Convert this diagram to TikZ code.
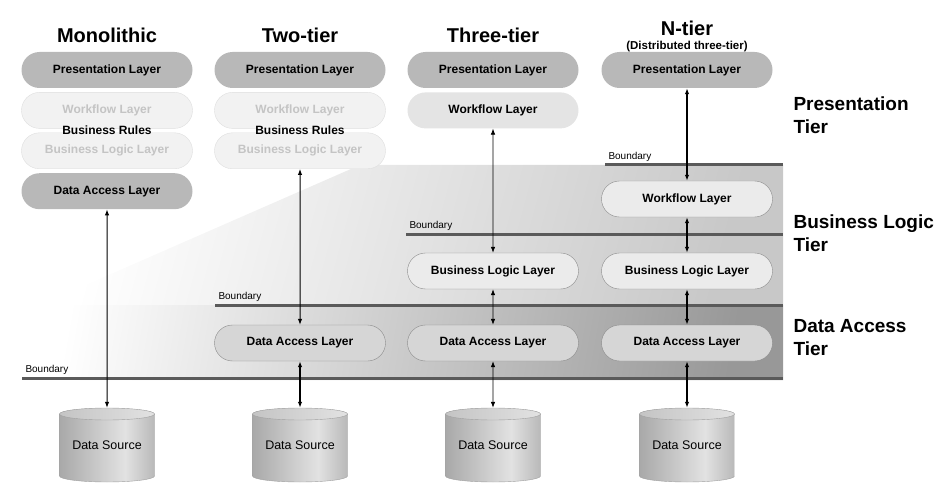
\documentclass[tikz,border=0pt]{standalone}
\usepackage{fontspec}
\setmainfont{Liberation Sans}
\usepackage{xcolor}
\usepackage{tikz}
\usetikzlibrary{positioning, arrows.meta, shapes}

\definecolor{laydark}{HTML}{B8B8B8}
\definecolor{laypale}{HTML}{E4E4E4}
\definecolor{ghostfill}{HTML}{F2F2F2}
\definecolor{ghostline}{HTML}{DEDEDE}
\definecolor{ghosttext}{HTML}{C4C4C4}
\definecolor{bizfill}{HTML}{EBEBEB}
\definecolor{datafill}{HTML}{D6D6D6}
\definecolor{layline}{HTML}{8C8C8C}
\definecolor{bandlight}{HTML}{C8C8C8}
\definecolor{banddark}{HTML}{989898}
\definecolor{boundgray}{HTML}{5A5A5A}
\definecolor{drumedge}{HTML}{A8A8A8}
\definecolor{drummid}{HTML}{E2E2E2}
\definecolor{drumright}{HTML}{B8B8B8}
\definecolor{drumtop}{HTML}{C4C4C4}
\definecolor{drumline}{HTML}{A0A0A0}

\begin{document}
\begin{tikzpicture}[
    x=1pt, y=-1pt,
    node distance=4pt,
    layer/.style={rounded rectangle, minimum width=171pt, minimum height=36pt, inner sep=0pt, font=\fontsize{12}{14}\selectfont\bfseries},
    dark/.style={layer, fill=laydark},
    pale/.style={layer, fill=laypale},
    ghost/.style={layer, fill=ghostfill, draw=ghostline, text=ghosttext},
    bizbox/.style={layer, fill=bizfill, draw=layline, thin},
    databox/.style={layer, fill=datafill, draw=layline, thin},
    datadrum/.pic={
        \begin{scope}
        \clip (-47.5,-31) -- (-47.5,31) arc[start angle=180, end angle=0, x radius=47.5, y radius=6]
            -- (47.5,-31) arc[start angle=0, end angle=-180, x radius=47.5, y radius=6] -- cycle;
        \shade[left color=drumedge, right color=drummid] (-48,-40) rectangle (18,40);
        \shade[left color=drummid, right color=drumright] (18,-40) rectangle (48,40);
        \end{scope}
        \shade[left color=drumtop, right color=drummid] (0,-31) ellipse[x radius=47.5, y radius=6];
        \draw[drumline] (-47.5,-31) -- (-47.5,31) arc[start angle=180, end angle=0, x radius=47.5, y radius=6]
            -- (47.5,-31) (0,-31) ellipse[x radius=47.5, y radius=6];
    },
    source/.style={rectangle, minimum width=95pt, minimum height=74pt, inner sep=0pt, font=\fontsize{12.5}{14}\selectfont},
    title/.style={font=\fontsize{20}{22}\selectfont\bfseries},
    subtitle/.style={font=\fontsize{11.5}{14}\selectfont\bfseries, inner sep=1pt},
    rules/.style={font=\fontsize{12}{14}\selectfont\bfseries, inner sep=0pt},
    tier/.style={font=\fontsize{19}{23}\selectfont\bfseries, align=left, anchor=west},
    bound/.style={line width=3pt, draw=boundgray},
    blabel/.style={font=\fontsize{10}{12}\selectfont, anchor=south west, inner sep=2pt},
    arrow/.style={{Latex[length=6pt,width=4.5pt]}-{Latex[length=6pt,width=4.5pt]}, line width=1pt},
    thinarrow/.style={arrow, line width=0.7pt},
    thickarrow/.style={arrow, line width=1.6pt}
]
\useasboundingbox (0,0) rectangle (951,500);

% Tier bands
\shade[left color=white, right color=bandlight, shading angle=75] (360,165) -- (783,165) -- (783,305) -- (40,305) -- cycle;
\shade[left color=white, right color=banddark, shading angle=80] (50,305) -- (783,305) -- (783,380) -- (15,380) -- cycle;

% Boundaries
\draw[bound] (605,165) node[blabel] {Boundary} -- (783,165);
\draw[bound] (406,234) node[blabel] {Boundary} -- (783,234);
\draw[bound] (215,305) node[blabel] {Boundary} -- (783,305);
\draw[bound] (22,378) node[blabel] {Boundary} -- (783,378);

% Monolithic column
\node[dark] (mpres) at (107,70) {Presentation Layer};
\node[ghost] (mwork) [below=of mpres] {Workflow Layer};
\node[ghost] (mbiz) [below=of mwork] {Business Logic Layer};
\node[dark] (mdata) [below=of mbiz] {Data Access Layer};
\node[rules] (mrules) at ([yshift=-2pt]mwork.south) {Business Rules};
\pic at (107,445) {datadrum};
\node[source] (msrc) at (107,445) {Data Source};
\node[title, above=6pt of mpres] (mtitle) {Monolithic};

% Two-tier column
\node[dark] (wpres) at (300,70) {Presentation Layer};
\node[ghost] (wwork) [below=of wpres] {Workflow Layer};
\node[ghost] (wbiz) [below=of wwork] {Business Logic Layer};
\node[rules] (wrules) at ([yshift=-2pt]wwork.south) {Business Rules};
\node[databox] (wdata) at (300,343) {Data Access Layer};
\pic at (300,445) {datadrum};
\node[source] (wsrc) at (300,445) {Data Source};
\node[title, above=6pt of wpres] (wtitle) {Two-tier};

% Three-tier column
\node[dark] (tpres) at (493,70) {Presentation Layer};
\node[pale] (twork) [below=of tpres] {Workflow Layer};
\node[bizbox] (tbiz) at (493,271) {Business Logic Layer};
\node[databox] (tdata) at (493,343) {Data Access Layer};
\pic at (493,445) {datadrum};
\node[source] (tsrc) at (493,445) {Data Source};
\node[title, above=6pt of tpres] (ttitle) {Three-tier};

% N-tier column
\node[dark] (npres) at (687,70) {Presentation Layer};
\node[bizbox] (nwork) at (687,199) {Workflow Layer};
\node[bizbox] (nbiz) at (687,271) {Business Logic Layer};
\node[databox] (ndata) at (687,343) {Data Access Layer};
\pic at (687,445) {datadrum};
\node[source] (nsrc) at (687,445) {Data Source};
\node[subtitle, above=-1pt of npres] (nsub) {(Distributed three-tier)};
\node[title, above=0pt of nsub] (ntitle) {N-tier};

% Tier labels
\node[tier] (ptier) at (790,115) {Presentation\\Tier};
\node[tier] (btier) at (790,233) {Business Logic\\Tier};
\node[tier] (dtier) at (790,338) {Data Access\\Tier};

% Arrows
\draw[arrow] (mdata) -- (msrc);
\draw[arrow] (wbiz) -- (wdata);
\draw[thickarrow] (wdata) -- (wsrc);
\draw[thinarrow] (twork) -- (tbiz);
\draw[thinarrow] (tbiz) -- (tdata);
\draw[thinarrow] (tdata) -- (tsrc);
\draw[thickarrow] (npres) -- (nwork);
\draw[thickarrow] (nwork) -- (nbiz);
\draw[thickarrow] (nbiz) -- (ndata);
\draw[thickarrow] (ndata) -- (nsrc);

\end{tikzpicture}
\end{document}
